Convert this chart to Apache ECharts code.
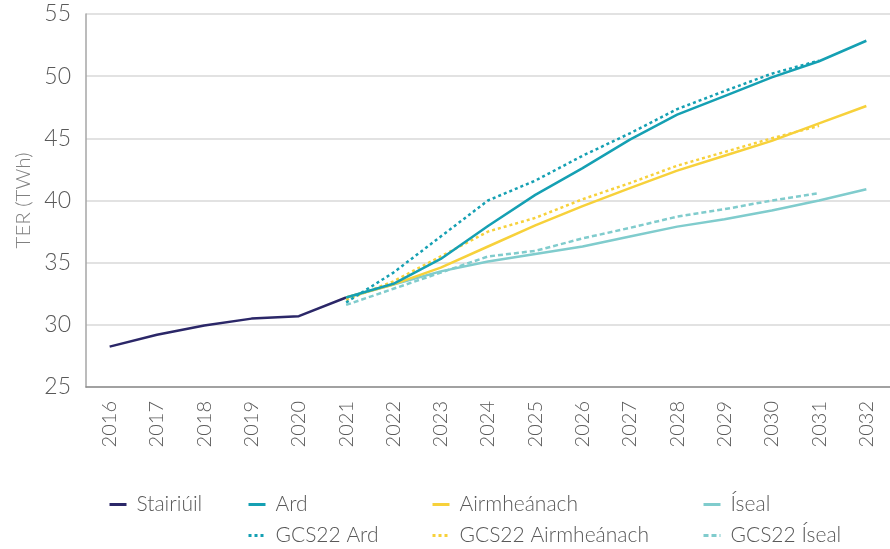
<!DOCTYPE html>
<html>
<head>
	<meta charset="UTF-8">
	<title>TER</title>
	<style type="text/css">
		html, body { margin: 0; padding: 0; background: #fff; }
		#chart { width: 890px; height: 549px; }
	</style>
</head>
<body>
	<div id="chart"></div>
	<script src="https://cdn.jsdelivr.net/npm/echarts@6/dist/echarts.min.js"></script>
	<script>
		// blianta
		var years = ['2016','2017','2018','2019','2020','2021','2022','2023','2024','2025','2026','2027','2028','2029','2030','2031','2032'];
		var stairiuil = [28.25, 29.2, 29.95, 30.5, 30.7, 32.2, null, null, null, null, null, null, null, null, null, null, null];
		var ard = [null, null, null, null, null, 32.2, 33.3, 35.3, 37.95, 40.45, 42.6, 44.9, 46.9, 48.4, 49.9, 51.2, 52.85];
		var airmheanach = [null, null, null, null, null, 32.2, 33.25, 34.6, 36.3, 38.0, 39.55, 41.0, 42.4, 43.6, 44.8, 46.2, 47.6];
		var iseal = [null, null, null, null, null, 32.2, 33.25, 34.3, 35.1, 35.7, 36.3, 37.1, 37.9, 38.5, 39.2, 40.0, 40.9];
		var gcsArd = [null, null, null, null, null, 31.8, 34.2, 37.1, 40.0, 41.6, 43.6, 45.4, 47.35, 48.8, 50.2, 51.25, null];
		var gcsAirm = [null, null, null, null, null, 32.0, 33.5, 35.5, 37.5, 38.6, 40.1, 41.4, 42.8, 43.9, 45.0, 46.0, null];
		var gcsIseal = [null, null, null, null, null, 31.6, 32.9, 34.2, 35.5, 35.95, 36.95, 37.8, 38.7, 39.3, 40.0, 40.6, null];

		var cNavy = '#2b2768', cTeal = '#15a0b3', cYellow = '#f7d13b', cLight = '#80cccd';
		var font = 'Lato';
		var txt = '#595959';

		var echart = echarts.init(document.getElementById('chart'));

		function mkSeries(name, data, color, type) {
			return {
				name: name,
				type: 'line',
				data: data,
				symbol: 'none',
				connectNulls: false,
				lineStyle: { color: color, width: 2.5, type: type || 'solid' },
				itemStyle: { color: color }
			};
		}
		function mkLegend(name, left, top) {
			return {
				data: [name],
				left: left,
				top: top,
				padding: 0,
				itemWidth: 17,
				itemHeight: 10,
				itemGap: 8,
				itemStyle: { opacity: 0 },
				lineStyle: { width: 3, type: 'inherit' },
				textStyle: { fontFamily: font, fontWeight: 300, fontSize: 21, color: txt, padding: [0, 0, 0, 5] }
			};
		}

		var option = {
			animation: false,
			grid: { left: 86, top: 14, bottom: 162, width: 811 },
			legend: [
				mkLegend('Stairiúil', 108, 494),
				mkLegend('Ard', 247, 494),
				mkLegend('Airmheánach', 431, 494),
				mkLegend('Íseal', 702, 494),
				mkLegend('GCS22 Ard', 247, 525),
				mkLegend('GCS22 Airmheánach', 431, 525),
				mkLegend('GCS22 Íseal', 702, 525)
			],
			xAxis: {
				type: 'category',
				data: years,
				boundaryGap: true,
				axisLine: { lineStyle: { color: '#8c8c8c', width: 1.5 } },
				axisTick: { show: false },
				axisLabel: { rotate: 90, margin: 14, fontFamily: font, fontWeight: 300, fontSize: 20, color: txt }
			},
			yAxis: {
				type: 'value',
				min: 25,
				max: 55,
				interval: 5,
				name: 'TER (TWh)',
				nameLocation: 'middle',
				nameGap: 52,
				nameTextStyle: { fontFamily: font, fontWeight: 300, fontSize: 20.5, color: '#808080' },
				axisLine: { show: true, lineStyle: { color: '#a6a6a6', width: 1.5 } },
				axisTick: { show: false },
				splitLine: { lineStyle: { color: '#d9d9d9', width: 1.5 } },
				axisLabel: { margin: 15, fontFamily: font, fontWeight: 300, fontSize: 23, color: txt }
			},
			series: [
				mkSeries('Stairiúil', stairiuil, cNavy),
				mkSeries('Íseal', iseal, cLight),
				mkSeries('GCS22 Íseal', gcsIseal, cLight, [5, 3]),
				mkSeries('Airmheánach', airmheanach, cYellow),
				mkSeries('GCS22 Airmheánach', gcsAirm, cYellow, [3, 3]),
				mkSeries('Ard', ard, cTeal),
				mkSeries('GCS22 Ard', gcsArd, cTeal, [3, 3])
			]
		};
		echart.setOption(option);
	</script>
</body>
</html>
